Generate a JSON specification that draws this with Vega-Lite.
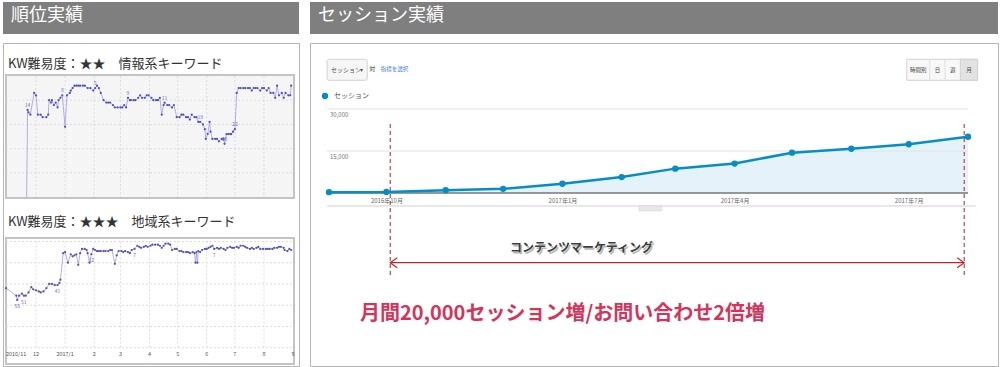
{
  "$schema": "https://vega.github.io/schema/vega-lite/v6.json",
  "padding": {"left": 2, "top": 2, "right": 2, "bottom": 2},
  "background": "white",
  "config": {"font": "Noto Sans CJK JP", "view": {"stroke": null}},
  "datasets": {
    "months": [{"m": "2016-12-01"}, {"m": "2017-01-01"}, {"m": "2017-02-01"}, {"m": "2017-03-01"}, {"m": "2017-04-01"}, {"m": "2017-05-01"}, {"m": "2017-06-01"}, {"m": "2017-07-01"}, {"m": "2017-08-01"}],
    "ticks": [{"m": "2016-11-01", "lab": "2016/11"}, {"m": "2016-12-01", "lab": "12"}, {"m": "2017-01-01", "lab": "2017/1"}, {"m": "2017-02-01", "lab": "2"}, {"m": "2017-03-01", "lab": "3"}, {"m": "2017-04-01", "lab": "4"}, {"m": "2017-05-01", "lab": "5"}, {"m": "2017-06-01", "lab": "6"}, {"m": "2017-07-01", "lab": "7"}, {"m": "2017-08-01", "lab": "8"}, {"m": "2017-09-01", "lab": "9"}],
    "kw1": [
      {"d": "2016-11-21", "r": 50}, {"d": "2016-11-22", "r": 14, "lab": "14"}, {"d": "2016-11-23", "r": 15}, {"d": "2016-11-25", "r": 16}, {"d": "2016-11-29", "r": 7}, {"d": "2016-12-01", "r": 8},
      {"d": "2016-12-03", "r": 16}, {"d": "2016-12-06", "r": 16}, {"d": "2016-12-08", "r": 17}, {"d": "2016-12-12", "r": 17}, {"d": "2016-12-14", "r": 16}, {"d": "2016-12-15", "r": 10},
      {"d": "2016-12-17", "r": 11}, {"d": "2016-12-18", "r": 10}, {"d": "2016-12-20", "r": 12}, {"d": "2016-12-22", "r": 11}, {"d": "2016-12-24", "r": 13}, {"d": "2016-12-25", "r": 10},
      {"d": "2016-12-27", "r": 9}, {"d": "2016-12-29", "r": 8, "lab": "8"}, {"d": "2017-01-01", "r": 21}, {"d": "2017-01-03", "r": 8}, {"d": "2017-01-06", "r": 7}, {"d": "2017-01-07", "r": 6},
      {"d": "2017-01-09", "r": 5}, {"d": "2017-01-11", "r": 4}, {"d": "2017-01-13", "r": 4}, {"d": "2017-01-15", "r": 4}, {"d": "2017-01-17", "r": 4}, {"d": "2017-01-20", "r": 4},
      {"d": "2017-01-22", "r": 4}, {"d": "2017-01-25", "r": 5}, {"d": "2017-01-28", "r": 5}, {"d": "2017-01-31", "r": 6}, {"d": "2017-02-02", "r": 5, "lab": "5"}, {"d": "2017-02-04", "r": 4},
      {"d": "2017-02-06", "r": 5}, {"d": "2017-02-08", "r": 7}, {"d": "2017-02-11", "r": 10}, {"d": "2017-02-14", "r": 11}, {"d": "2017-02-16", "r": 11}, {"d": "2017-02-18", "r": 11},
      {"d": "2017-02-21", "r": 12}, {"d": "2017-02-23", "r": 13}, {"d": "2017-02-26", "r": 13}, {"d": "2017-03-01", "r": 13}, {"d": "2017-03-03", "r": 13}, {"d": "2017-03-05", "r": 12},
      {"d": "2017-03-07", "r": 13}, {"d": "2017-03-09", "r": 9, "lab": "9"}, {"d": "2017-03-11", "r": 10}, {"d": "2017-03-12", "r": 10}, {"d": "2017-03-15", "r": 10}, {"d": "2017-03-17", "r": 10},
      {"d": "2017-03-20", "r": 9}, {"d": "2017-03-22", "r": 8}, {"d": "2017-03-24", "r": 9}, {"d": "2017-03-27", "r": 9}, {"d": "2017-03-29", "r": 8}, {"d": "2017-03-31", "r": 8},
      {"d": "2017-04-03", "r": 9}, {"d": "2017-04-05", "r": 10}, {"d": "2017-04-08", "r": 10}, {"d": "2017-04-10", "r": 10}, {"d": "2017-04-12", "r": 9}, {"d": "2017-04-14", "r": 16},
      {"d": "2017-04-16", "r": 12}, {"d": "2017-04-17", "r": 11, "lab": "11"}, {"d": "2017-04-20", "r": 12}, {"d": "2017-04-22", "r": 12}, {"d": "2017-04-25", "r": 13}, {"d": "2017-04-27", "r": 12},
      {"d": "2017-04-30", "r": 17}, {"d": "2017-05-03", "r": 17}, {"d": "2017-05-05", "r": 16}, {"d": "2017-05-07", "r": 16}, {"d": "2017-05-10", "r": 17}, {"d": "2017-05-12", "r": 17},
      {"d": "2017-05-14", "r": 18}, {"d": "2017-05-16", "r": 16}, {"d": "2017-05-19", "r": 17}, {"d": "2017-05-21", "r": 17}, {"d": "2017-05-23", "r": 19}, {"d": "2017-05-25", "r": 19, "lab": "19"},
      {"d": "2017-05-28", "r": 20}, {"d": "2017-05-30", "r": 22}, {"d": "2017-05-31", "r": 26}, {"d": "2017-06-02", "r": 24}, {"d": "2017-06-04", "r": 19}, {"d": "2017-06-05", "r": 23},
      {"d": "2017-06-07", "r": 26}, {"d": "2017-06-10", "r": 26}, {"d": "2017-06-12", "r": 26}, {"d": "2017-06-14", "r": 27}, {"d": "2017-06-17", "r": 26}, {"d": "2017-06-19", "r": 26},
      {"d": "2017-06-20", "r": 28, "lab": "28"}, {"d": "2017-06-22", "r": 24}, {"d": "2017-06-24", "r": 24}, {"d": "2017-06-26", "r": 24}, {"d": "2017-06-27", "r": 24}, {"d": "2017-06-29", "r": 23},
      {"d": "2017-07-01", "r": 22, "lab": "22"}, {"d": "2017-07-03", "r": 7}, {"d": "2017-07-05", "r": 5}, {"d": "2017-07-07", "r": 5}, {"d": "2017-07-10", "r": 5}, {"d": "2017-07-12", "r": 5},
      {"d": "2017-07-15", "r": 5}, {"d": "2017-07-17", "r": 5}, {"d": "2017-07-19", "r": 6}, {"d": "2017-07-21", "r": 5}, {"d": "2017-07-23", "r": 5}, {"d": "2017-07-25", "r": 5},
      {"d": "2017-07-28", "r": 6}, {"d": "2017-07-30", "r": 5}, {"d": "2017-08-01", "r": 5}, {"d": "2017-08-04", "r": 6}, {"d": "2017-08-06", "r": 5}, {"d": "2017-08-08", "r": 7},
      {"d": "2017-08-11", "r": 7}, {"d": "2017-08-13", "r": 9}, {"d": "2017-08-15", "r": 4}, {"d": "2017-08-17", "r": 8}, {"d": "2017-08-20", "r": 7}, {"d": "2017-08-22", "r": 9},
      {"d": "2017-08-24", "r": 7}, {"d": "2017-08-27", "r": 8}, {"d": "2017-08-29", "r": 8}, {"d": "2017-08-30", "r": 4}
    ],
    "kw2": [
      {"d": "2016-10-30", "r": 44}, {"d": "2016-11-10", "r": 51}, {"d": "2016-11-11", "r": 55, "lab": "55"}, {"d": "2016-11-13", "r": 51}, {"d": "2016-11-16", "r": 49}, {"d": "2016-11-18", "r": 51, "lab": "51"},
      {"d": "2016-11-20", "r": 51}, {"d": "2016-11-23", "r": 48}, {"d": "2016-11-26", "r": 43}, {"d": "2016-11-28", "r": 45}, {"d": "2016-12-01", "r": 46}, {"d": "2016-12-04", "r": 47},
      {"d": "2016-12-06", "r": 48}, {"d": "2016-12-09", "r": 47}, {"d": "2016-12-12", "r": 44}, {"d": "2016-12-15", "r": 40}, {"d": "2016-12-18", "r": 40}, {"d": "2016-12-21", "r": 41},
      {"d": "2016-12-24", "r": 41, "lab": "41"}, {"d": "2016-12-26", "r": 39}, {"d": "2016-12-27", "r": 36}, {"d": "2016-12-30", "r": 11}, {"d": "2017-01-01", "r": 10}, {"d": "2017-01-04", "r": 20},
      {"d": "2017-01-07", "r": 12}, {"d": "2017-01-09", "r": 14}, {"d": "2017-01-11", "r": 13}, {"d": "2017-01-13", "r": 12}, {"d": "2017-01-15", "r": 22}, {"d": "2017-01-17", "r": 11},
      {"d": "2017-01-19", "r": 7}, {"d": "2017-01-22", "r": 7}, {"d": "2017-01-24", "r": 8}, {"d": "2017-01-25", "r": 11}, {"d": "2017-01-27", "r": 20}, {"d": "2017-01-29", "r": 12, "lab": "12"},
      {"d": "2017-01-31", "r": 7}, {"d": "2017-02-02", "r": 8}, {"d": "2017-02-04", "r": 9}, {"d": "2017-02-06", "r": 9}, {"d": "2017-02-08", "r": 9}, {"d": "2017-02-11", "r": 9},
      {"d": "2017-02-13", "r": 9}, {"d": "2017-02-16", "r": 9}, {"d": "2017-02-18", "r": 8}, {"d": "2017-02-20", "r": 8}, {"d": "2017-02-23", "r": 21}, {"d": "2017-02-25", "r": 13},
      {"d": "2017-02-27", "r": 9}, {"d": "2017-03-02", "r": 9}, {"d": "2017-03-04", "r": 10}, {"d": "2017-03-06", "r": 9}, {"d": "2017-03-09", "r": 10}, {"d": "2017-03-11", "r": 11},
      {"d": "2017-03-13", "r": 8}, {"d": "2017-03-16", "r": 7, "lab": "7"}, {"d": "2017-03-19", "r": 4}, {"d": "2017-03-21", "r": 5}, {"d": "2017-03-23", "r": 6}, {"d": "2017-03-26", "r": 5},
      {"d": "2017-03-28", "r": 4}, {"d": "2017-03-30", "r": 5}, {"d": "2017-04-02", "r": 4}, {"d": "2017-04-04", "r": 3}, {"d": "2017-04-07", "r": 3}, {"d": "2017-04-10", "r": 3},
      {"d": "2017-04-12", "r": 4}, {"d": "2017-04-14", "r": 6}, {"d": "2017-04-16", "r": 4}, {"d": "2017-04-18", "r": 2}, {"d": "2017-04-21", "r": 2}, {"d": "2017-04-23", "r": 3},
      {"d": "2017-04-25", "r": 8}, {"d": "2017-04-28", "r": 7}, {"d": "2017-04-30", "r": 7}, {"d": "2017-05-03", "r": 9}, {"d": "2017-05-05", "r": 9}, {"d": "2017-05-07", "r": 10},
      {"d": "2017-05-10", "r": 10}, {"d": "2017-05-12", "r": 10}, {"d": "2017-05-14", "r": 11}, {"d": "2017-05-17", "r": 10}, {"d": "2017-05-19", "r": 11}, {"d": "2017-05-20", "r": 20},
      {"d": "2017-05-21", "r": 10}, {"d": "2017-05-22", "r": 20}, {"d": "2017-05-23", "r": 9}, {"d": "2017-05-25", "r": 10}, {"d": "2017-05-27", "r": 8}, {"d": "2017-05-30", "r": 7},
      {"d": "2017-06-01", "r": 7}, {"d": "2017-06-03", "r": 6}, {"d": "2017-06-05", "r": 5}, {"d": "2017-06-07", "r": 4}, {"d": "2017-06-09", "r": 7, "lab": "7"}, {"d": "2017-06-12", "r": 6},
      {"d": "2017-06-14", "r": 7}, {"d": "2017-06-16", "r": 6}, {"d": "2017-06-19", "r": 7}, {"d": "2017-06-21", "r": 8}, {"d": "2017-06-23", "r": 6}, {"d": "2017-06-26", "r": 5},
      {"d": "2017-06-28", "r": 6}, {"d": "2017-06-30", "r": 6}, {"d": "2017-07-03", "r": 5}, {"d": "2017-07-05", "r": 6}, {"d": "2017-07-07", "r": 4}, {"d": "2017-07-10", "r": 4},
      {"d": "2017-07-12", "r": 5}, {"d": "2017-07-14", "r": 6}, {"d": "2017-07-17", "r": 7}, {"d": "2017-07-19", "r": 6}, {"d": "2017-07-21", "r": 7}, {"d": "2017-07-24", "r": 6},
      {"d": "2017-07-26", "r": 5}, {"d": "2017-07-28", "r": 7}, {"d": "2017-07-31", "r": 7}, {"d": "2017-08-03", "r": 7}, {"d": "2017-08-05", "r": 7}, {"d": "2017-08-07", "r": 7},
      {"d": "2017-08-10", "r": 7}, {"d": "2017-08-12", "r": 6}, {"d": "2017-08-15", "r": 6}, {"d": "2017-08-17", "r": 5}, {"d": "2017-08-19", "r": 5}, {"d": "2017-08-22", "r": 6},
      {"d": "2017-08-23", "r": 8}, {"d": "2017-08-26", "r": 9}, {"d": "2017-08-28", "r": 7}, {"d": "2017-08-30", "r": 8}
    ],
    "sessions": [
      {"month": "2016-09-01", "sessions": 300}, {"month": "2016-10-01", "sessions": 400}, {"month": "2016-11-01", "sessions": 1000}, {"month": "2016-12-01", "sessions": 1500},
      {"month": "2017-01-01", "sessions": 3300}, {"month": "2017-02-01", "sessions": 5700}, {"month": "2017-03-01", "sessions": 8700}, {"month": "2017-04-01", "sessions": 10500},
      {"month": "2017-05-01", "sessions": 14400}, {"month": "2017-06-01", "sessions": 15800}, {"month": "2017-07-01", "sessions": 17400}, {"month": "2017-08-01", "sessions": 20100}
    ],
    "grid": [{"v": 15000}, {"v": 30000}]
  },
  "hconcat": [
    {
      "vconcat": [
        {
          "width": 296, "height": 32,
          "view": {"fill": "#7f7f7f", "stroke": null},
          "data": {"values": [{"t": "順位実績"}]},
          "mark": {"type": "text", "align": "left", "baseline": "middle", "fontSize": 18, "color": "#ffffff", "dx": 8},
          "encoding": {
            "x": {"datum": 0, "type": "quantitative", "scale": {"domain": [0, 1]}, "axis": null},
            "y": {"datum": 0.56, "type": "quantitative", "scale": {"domain": [0, 1]}, "axis": null},
            "text": {"field": "t"}
          }
        },
        {
          "width": 296, "height": 323,
          "view": {"stroke": "#b5b5b5", "fill": "white"},
          "resolve": {"scale": {"y": "independent"}},
          "layer": [
            {
              "layer": [
                {"data": {"values": [{}]}, "mark": {"type": "rect", "fill": "#f5f5f5", "stroke": "#c4c4c4", "strokeWidth": 2},
                 "encoding": {"x": {"datum": {"year": 2016, "month": 10, "date": 30, "utc": true}, "type": "temporal", "axis": null}, "x2": {"datum": {"year": 2017, "month": 9, "date": 2, "utc": true}},
                              "y": {"datum": -0.4, "type": "quantitative", "axis": null}, "y2": {"datum": 50.4}}},
                {"data": {"values": [{"r": 10}, {"r": 20}, {"r": 30}, {"r": 40}]}, "mark": {"type": "rule", "stroke": "#dcdcdc", "strokeDash": [2, 2]},
                 "encoding": {"y": {"field": "r", "type": "quantitative", "axis": null}, "x": {"datum": {"year": 2016, "month": 10, "date": 30, "utc": true}, "type": "temporal", "axis": null}, "x2": {"datum": {"year": 2017, "month": 9, "date": 2, "utc": true}}}},
                {"data": {"name": "months"}, "mark": {"type": "rule", "stroke": "#dcdcdc", "strokeDash": [2, 2]},
                 "encoding": {"x": {"field": "m", "type": "temporal", "axis": null}, "y": {"datum": 0, "type": "quantitative", "axis": null}, "y2": {"datum": 50}}},
                {"data": {"name": "kw1"}, "mark": {"type": "line", "stroke": "#9c9ce8", "strokeWidth": 0.8},
                 "encoding": {
                   "x": {"field": "d", "type": "temporal", "axis": null, "scale": {"type": "utc", "domain": [{"year": 2016, "month": 10, "date": 30, "utc": true}, {"year": 2017, "month": 9, "date": 2, "utc": true}], "range": [3, 291]}},
                   "y": {"field": "r", "type": "quantitative", "axis": null, "scale": {"domain": [0, 50], "range": [33, 154], "nice": false}}}},
                {"data": {"name": "kw1"}, "transform": [{"filter": "datum.r < 50"}], "mark": {"type": "point", "filled": true, "size": 5, "color": "#4f4fc8", "opacity": 1},
                 "encoding": {"x": {"field": "d", "type": "temporal", "axis": null}, "y": {"field": "r", "type": "quantitative", "axis": null}}},
                {"data": {"name": "kw1"}, "transform": [{"filter": "datum.lab != null"}], "mark": {"type": "text", "fontSize": 5, "dy": -5, "color": "#6b6bd6"},
                 "encoding": {"x": {"field": "d", "type": "temporal", "axis": null}, "y": {"field": "r", "type": "quantitative", "axis": null}, "text": {"field": "lab"}}},
                {"data": {"values": [{"t": "KW難易度：★★　情報系キーワード"}]}, "mark": {"type": "text", "align": "left", "baseline": "middle", "fontSize": 13, "color": "#333333"},
                 "encoding": {"x": {"datum": {"year": 2016, "month": 11, "date": 1, "utc": true}, "type": "temporal", "axis": null}, "y": {"datum": -5, "type": "quantitative", "axis": null}, "text": {"field": "t"}}}
              ]
            },
            {
              "layer": [
                {"data": {"values": [{}]}, "mark": {"type": "rect", "fill": "#ffffff", "stroke": "#c4c4c4", "strokeWidth": 2},
                 "encoding": {"x": {"datum": {"year": 2016, "month": 10, "date": 30, "utc": true}, "type": "temporal", "axis": null}, "x2": {"datum": {"year": 2017, "month": 9, "date": 2, "utc": true}},
                              "y": {"datum": -3.3, "type": "quantitative", "axis": null}, "y2": {"datum": 115.3}}},
                {"data": {"values": [{"r": 0}, {"r": 20}, {"r": 40}, {"r": 60}, {"r": 80}, {"r": 100}]}, "mark": {"type": "rule", "stroke": "#dcdcdc", "strokeDash": [2, 2]},
                 "encoding": {"y": {"field": "r", "type": "quantitative", "axis": null}, "x": {"datum": {"year": 2016, "month": 10, "date": 30, "utc": true}, "type": "temporal", "axis": null}, "x2": {"datum": {"year": 2017, "month": 9, "date": 2, "utc": true}}}},
                {"data": {"name": "months"}, "mark": {"type": "rule", "stroke": "#dcdcdc", "strokeDash": [2, 2]},
                 "encoding": {"x": {"field": "m", "type": "temporal", "axis": null}, "y": {"datum": 0, "type": "quantitative", "axis": null}, "y2": {"datum": 100}}},
                {"data": {"name": "kw2"}, "mark": {"type": "line", "stroke": "#9c9ce8", "strokeWidth": 0.8},
                 "encoding": {
                   "x": {"field": "d", "type": "temporal", "axis": null},
                   "y": {"field": "r", "type": "quantitative", "axis": null, "scale": {"domain": [0, 100], "range": [198.5, 304.7], "nice": false}}}},
                {"data": {"name": "kw2"}, "mark": {"type": "point", "filled": true, "size": 5, "color": "#4f4fc8", "opacity": 1},
                 "encoding": {"x": {"field": "d", "type": "temporal", "axis": null}, "y": {"field": "r", "type": "quantitative", "axis": null}}},
                {"data": {"name": "kw2"}, "transform": [{"filter": "datum.lab != null"}], "mark": {"type": "text", "fontSize": 5, "dy": 6, "color": "#6b6bd6"},
                 "encoding": {"x": {"field": "d", "type": "temporal", "axis": null}, "y": {"field": "r", "type": "quantitative", "axis": null}, "text": {"field": "lab"}}},
                {"data": {"name": "ticks"}, "transform": [{"filter": "datum.lab != '2016/11'"}], "mark": {"type": "text", "fontSize": 5.5, "color": "#555555", "baseline": "middle", "clip": true},
                 "encoding": {"x": {"field": "m", "type": "temporal", "axis": null}, "y": {"datum": 106, "type": "quantitative", "axis": null}, "text": {"field": "lab"}}},
                {"data": {"name": "ticks"}, "transform": [{"filter": "datum.lab == '2016/11'"}], "mark": {"type": "text", "fontSize": 5.5, "color": "#555555", "baseline": "middle", "align": "left", "dx": -2},
                 "encoding": {"x": {"field": "m", "type": "temporal", "axis": null}, "y": {"datum": 106, "type": "quantitative", "axis": null}, "text": {"field": "lab"}}},
                {"data": {"values": [{"t": "KW難易度：★★★　地域系キーワード"}]}, "mark": {"type": "text", "align": "left", "baseline": "middle", "fontSize": 13, "color": "#333333"},
                 "encoding": {"x": {"datum": {"year": 2016, "month": 11, "date": 1, "utc": true}, "type": "temporal", "axis": null}, "y": {"datum": -18.4, "type": "quantitative", "axis": null}, "text": {"field": "t"}}}
              ]
            }
          ]
        }
      ],
      "spacing": 8
    },
    {
      "vconcat": [
        {
          "width": 688, "height": 32,
          "view": {"fill": "#7f7f7f", "stroke": null},
          "data": {"values": [{"t": "セッション実績"}]},
          "mark": {"type": "text", "align": "left", "baseline": "middle", "fontSize": 18, "color": "#ffffff", "dx": 8},
          "encoding": {
            "x": {"datum": 0, "type": "quantitative", "scale": {"domain": [0, 1]}, "axis": null},
            "y": {"datum": 0.56, "type": "quantitative", "scale": {"domain": [0, 1]}, "axis": null},
            "text": {"field": "t"}
          }
        },
        {
          "width": 688, "height": 323,
          "view": {"stroke": "#b5b5b5", "fill": "white"},
          "layer": [
            {"data": {"name": "sessions"}, "mark": {"type": "area", "color": "#e5f2fa"},
             "encoding": {
               "x": {"field": "month", "type": "temporal",
                     "scale": {"type": "utc", "domain": [{"year": 2016, "month": 9, "date": 1, "utc": true}, {"year": 2017, "month": 8, "date": 1, "utc": true}], "range": [19, 658]},
                     "axis": {"values": [{"year": 2016, "month": 10, "date": 1, "utc": true}, {"year": 2017, "month": 1, "date": 1, "utc": true}, {"year": 2017, "month": 4, "date": 1, "utc": true}, {"year": 2017, "month": 7, "date": 1, "utc": true}],
                              "format": "%Y年%-m月", "domain": false, "ticks": false, "grid": false, "title": null, "labelFontSize": 6, "labelColor": "#666666", "offset": -173, "labelPadding": 4}},
               "y": {"field": "sessions", "type": "quantitative", "axis": null, "scale": {"domain": [0, 30000], "range": [150, 66], "nice": false}},
               "y2": {"datum": 0}}},
            {"data": {"name": "grid"}, "mark": {"type": "rule", "stroke": "#e3e3e3", "strokeWidth": 1},
             "encoding": {"y": {"field": "v", "type": "quantitative", "axis": null}, "x": {"datum": {"year": 2016, "month": 8, "date": 31, "utc": true}, "type": "temporal"}, "x2": {"datum": {"year": 2017, "month": 8, "date": 1, "utc": true}}}},
            {"data": {"name": "grid"}, "mark": {"type": "text", "align": "left", "baseline": "middle", "fontSize": 6, "color": "#777777", "dx": 1, "dy": 6},
             "encoding": {"y": {"field": "v", "type": "quantitative", "axis": null}, "x": {"datum": {"year": 2016, "month": 9, "date": 1, "utc": true}, "type": "temporal"}, "text": {"field": "v", "type": "quantitative", "format": ","}}},
            {"data": {"values": [{}]}, "mark": {"type": "rule", "stroke": "#777777", "strokeWidth": 1.5},
             "encoding": {"y": {"datum": 0, "type": "quantitative", "axis": null}, "x": {"datum": {"year": 2016, "month": 8, "date": 31, "utc": true}, "type": "temporal"}, "x2": {"datum": {"year": 2017, "month": 8, "date": 1, "utc": true}}}},
            {"data": {"values": [{}]}, "mark": {"type": "rule", "stroke": "#d0d0d0", "strokeWidth": 1},
             "encoding": {"y": {"datum": -4640, "type": "quantitative", "axis": null}, "x": {"datum": {"year": 2016, "month": 8, "date": 31, "utc": true}, "type": "temporal"}, "x2": {"datum": {"year": 2017, "month": 8, "date": 5, "utc": true}}}},
            {"data": {"values": [{}]}, "mark": {"type": "rect", "fill": "#e8e8e8", "stroke": "#d0d0d0", "strokeWidth": 0.5},
             "encoding": {"x": {"datum": {"year": 2017, "month": 2, "date": 10, "utc": true}, "type": "temporal"}, "x2": {"datum": {"year": 2017, "month": 2, "date": 22, "utc": true}}, "y": {"datum": -4640, "type": "quantitative", "axis": null}, "y2": {"datum": -6430}}},
            {"data": {"name": "sessions"}, "mark": {"type": "line", "color": "#058dc7", "strokeWidth": 2.5},
             "encoding": {"x": {"field": "month", "type": "temporal"}, "y": {"field": "sessions", "type": "quantitative", "axis": null}}},
            {"data": {"name": "sessions"}, "mark": {"type": "point", "filled": true, "size": 40, "opacity": 1},
             "encoding": {"x": {"field": "month", "type": "temporal"}, "y": {"field": "sessions", "type": "quantitative", "axis": null},
                          "color": {"datum": "セッション", "type": "nominal", "scale": {"range": ["#058dc7"]},
                                    "legend": {"orient": "none", "legendX": 318, "legendY": 90, "title": null, "labelFontSize": 7, "labelColor": "#555555", "symbolType": "circle", "symbolSize": 40, "padding": 0, "labelOffset": 5}}}},
            {"data": {"values": [{}]}, "mark": {"type": "rule", "stroke": "#b41f1f", "strokeWidth": 1, "strokeDash": [4, 3]},
             "encoding": {"x": {"datum": {"year": 2016, "month": 10, "date": 3, "utc": true}, "type": "temporal"}, "y": {"datum": 24640, "type": "quantitative", "axis": null}, "y2": {"datum": -29640}}},
            {"data": {"values": [{}]}, "mark": {"type": "rule", "stroke": "#b41f1f", "strokeWidth": 1, "strokeDash": [4, 3]},
             "encoding": {"x": {"datum": {"year": 2017, "month": 7, "date": 30, "utc": true}, "type": "temporal"}, "y": {"datum": 24640, "type": "quantitative", "axis": null}, "y2": {"datum": -29640}}},
            {"data": {"values": [{}]}, "mark": {"type": "rule", "stroke": "#c0262d", "strokeWidth": 1.3},
             "encoding": {"x": {"datum": {"year": 2016, "month": 10, "date": 3, "utc": true}, "type": "temporal"}, "x2": {"datum": {"year": 2017, "month": 7, "date": 30, "utc": true}}, "y": {"datum": -24890, "type": "quantitative", "axis": null}}},
            {"data": {"values": [{}]}, "mark": {"type": "point", "shape": "M1.4,-1L0,0L1.4,1", "size": 100, "filled": false, "stroke": "#c0262d", "strokeWidth": 1.2, "opacity": 1},
             "encoding": {"x": {"datum": {"year": 2016, "month": 10, "date": 3, "utc": true}, "type": "temporal"}, "y": {"datum": -24890, "type": "quantitative", "axis": null}}},
            {"data": {"values": [{}]}, "mark": {"type": "point", "shape": "M-1.4,-1L0,0L-1.4,1", "size": 100, "filled": false, "stroke": "#c0262d", "strokeWidth": 1.2, "opacity": 1},
             "encoding": {"x": {"datum": {"year": 2017, "month": 7, "date": 30, "utc": true}, "type": "temporal"}, "y": {"datum": -24890, "type": "quantitative", "axis": null}}},
            {"data": {"values": [{"t": "コンテンツマーケティング"}]}, "mark": {"type": "text", "align": "center", "baseline": "middle", "fontSize": 12, "fontWeight": "bold", "color": "#b8b8b8", "dx": 1.5, "dy": 1.5},
             "encoding": {"x": {"datum": {"year": 2017, "month": 1, "date": 11, "utc": true}, "type": "temporal"}, "y": {"datum": -19820, "type": "quantitative", "axis": null}, "text": {"field": "t"}}},
            {"data": {"values": [{"t": "コンテンツマーケティング"}]}, "mark": {"type": "text", "align": "center", "baseline": "middle", "fontSize": 12, "fontWeight": "bold", "color": "#3c3c3c"},
             "encoding": {"x": {"datum": {"year": 2017, "month": 1, "date": 11, "utc": true}, "type": "temporal"}, "y": {"datum": -19820, "type": "quantitative", "axis": null}, "text": {"field": "t"}}},
            {"data": {"values": [{"t": "月間20,000セッション増/お問い合わせ2倍増"}]}, "mark": {"type": "text", "align": "center", "baseline": "middle", "fontSize": 20, "fontWeight": "bold", "color": "#d7335a"},
             "encoding": {"x": {"datum": {"year": 2017, "month": 1, "date": 1, "utc": true}, "type": "temporal"}, "y": {"datum": -43210, "type": "quantitative", "axis": null}, "text": {"field": "t"}}},
            {"data": {"values": [{}]}, "mark": {"type": "rect", "fill": "#f6f6f6", "stroke": "#d2d2d2", "strokeWidth": 1, "cornerRadius": 2},
             "encoding": {"x": {"datum": {"year": 2016, "month": 8, "date": 31, "utc": true}, "type": "temporal"}, "x2": {"datum": {"year": 2016, "month": 9, "date": 21, "utc": true}}, "y": {"datum": 47750, "type": "quantitative", "axis": null}, "y2": {"datum": 40250}}},
            {"data": {"values": [{"t": "セッション"}]}, "mark": {"type": "text", "align": "left", "baseline": "middle", "fontSize": 6, "color": "#555555"},
             "encoding": {"x": {"datum": {"year": 2016, "month": 9, "date": 2, "utc": true}, "type": "temporal"}, "y": {"datum": 43930, "type": "quantitative", "axis": null}, "text": {"field": "t"}}},
            {"data": {"values": [{"t": "▾"}]}, "mark": {"type": "text", "align": "center", "baseline": "middle", "fontSize": 6, "color": "#555555"},
             "encoding": {"x": {"datum": {"year": 2016, "month": 9, "date": 18, "utc": true}, "type": "temporal"}, "y": {"datum": 43930, "type": "quantitative", "axis": null}, "text": {"field": "t"}}},
            {"data": {"values": [{"t": "対"}]}, "mark": {"type": "text", "align": "left", "baseline": "middle", "fontSize": 6, "color": "#333333"},
             "encoding": {"x": {"datum": {"year": 2016, "month": 9, "date": 22, "utc": true}, "type": "temporal"}, "y": {"datum": 44460, "type": "quantitative", "axis": null}, "text": {"field": "t"}}},
            {"data": {"values": [{"t": "指標を選択"}]}, "mark": {"type": "text", "align": "left", "baseline": "middle", "fontSize": 5.5, "color": "#3d7cc9"},
             "encoding": {"x": {"datum": {"year": 2016, "month": 9, "date": 28, "utc": true}, "type": "temporal"}, "y": {"datum": 44290, "type": "quantitative", "axis": null}, "text": {"field": "t"}}},
            {"data": {"values": [{}]}, "mark": {"type": "rect", "fill": "#f8f8f8", "stroke": "#d2d2d2", "strokeWidth": 1},
             "encoding": {"x": {"datum": {"year": 2017, "month": 6, "date": 30, "utc": true}, "type": "temporal"}, "x2": {"datum": {"year": 2017, "month": 8, "date": 6, "utc": true}}, "y": {"datum": 47750, "type": "quantitative", "axis": null}, "y2": {"datum": 40250}}},
            {"data": {"values": [{}]}, "mark": {"type": "rect", "fill": "#e2e2e2", "stroke": "#d2d2d2", "strokeWidth": 1},
             "encoding": {"x": {"datum": {"year": 2017, "month": 7, "date": 28, "utc": true}, "type": "temporal"}, "x2": {"datum": {"year": 2017, "month": 8, "date": 6, "utc": true}}, "y": {"datum": 47750, "type": "quantitative", "axis": null}, "y2": {"datum": 40250}}},
            {"data": {"values": [{}]}, "mark": {"type": "rule", "stroke": "#dddddd", "strokeWidth": 1},
             "encoding": {"x": {"datum": {"year": 2017, "month": 7, "date": 12, "utc": true}, "type": "temporal"}, "y": {"datum": 47750, "type": "quantitative", "axis": null}, "y2": {"datum": 40250}}},
            {"data": {"values": [{}]}, "mark": {"type": "rule", "stroke": "#dddddd", "strokeWidth": 1},
             "encoding": {"x": {"datum": {"year": 2017, "month": 7, "date": 20, "utc": true}, "type": "temporal"}, "y": {"datum": 47750, "type": "quantitative", "axis": null}, "y2": {"datum": 40250}}},
            {"data": {"values": [{"t": "時間別"}]}, "mark": {"type": "text", "align": "center", "baseline": "middle", "fontSize": 5.5, "color": "#444444"},
             "encoding": {"x": {"datum": {"year": 2017, "month": 7, "date": 6, "utc": true}, "type": "temporal"}, "y": {"datum": 43930, "type": "quantitative", "axis": null}, "text": {"field": "t"}}},
            {"data": {"values": [{"t": "日"}]}, "mark": {"type": "text", "align": "center", "baseline": "middle", "fontSize": 5.5, "color": "#444444"},
             "encoding": {"x": {"datum": {"year": 2017, "month": 7, "date": 16, "utc": true}, "type": "temporal"}, "y": {"datum": 43930, "type": "quantitative", "axis": null}, "text": {"field": "t"}}},
            {"data": {"values": [{"t": "週"}]}, "mark": {"type": "text", "align": "center", "baseline": "middle", "fontSize": 5.5, "color": "#444444"},
             "encoding": {"x": {"datum": {"year": 2017, "month": 7, "date": 24, "utc": true}, "type": "temporal"}, "y": {"datum": 43930, "type": "quantitative", "axis": null}, "text": {"field": "t"}}},
            {"data": {"values": [{"t": "月"}]}, "mark": {"type": "text", "align": "center", "baseline": "middle", "fontSize": 5.5, "color": "#444444"},
             "encoding": {"x": {"datum": {"year": 2017, "month": 8, "date": 1, "hours": 12, "utc": true}, "type": "temporal"}, "y": {"datum": 43930, "type": "quantitative", "axis": null}, "text": {"field": "t"}}}
          ]
        }
      ],
      "spacing": 8
    }
  ],
  "spacing": 9
}
